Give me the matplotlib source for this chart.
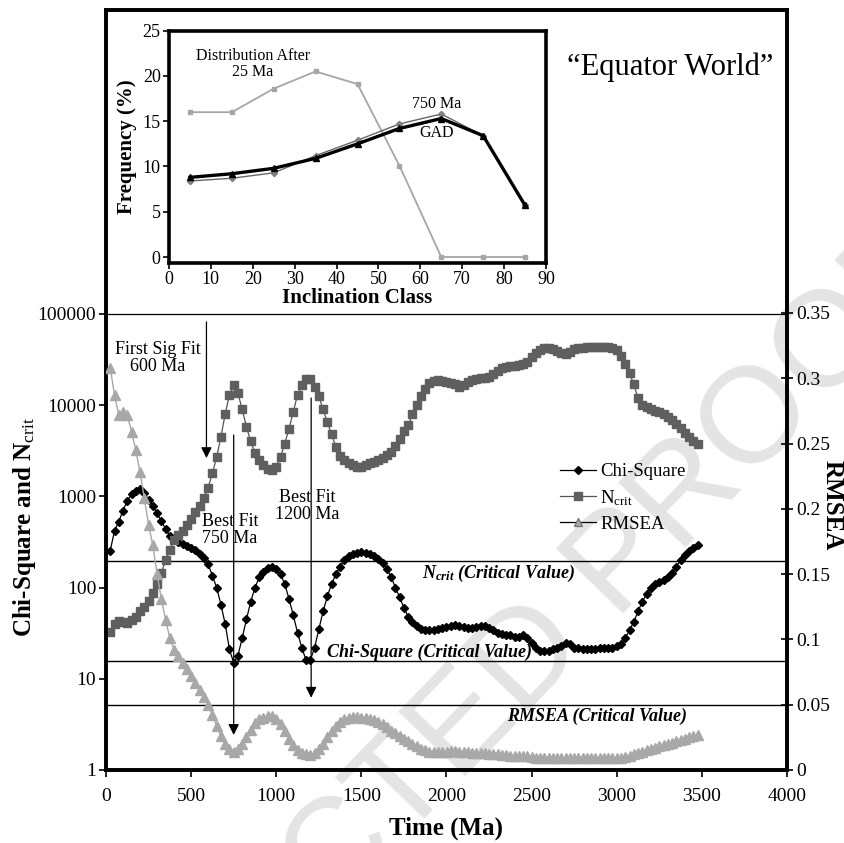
import matplotlib
matplotlib.use('Agg')
import matplotlib.pyplot as plt
from matplotlib.lines import Line2D

plt.rcParams['font.family'] = ['Liberation Serif', 'DejaVu Serif']
plt.rcParams['mathtext.fontset'] = 'custom'
plt.rcParams['mathtext.rm'] = 'Liberation Serif'
plt.rcParams['mathtext.it'] = 'Liberation Serif:italic:bold'
plt.rcParams['mathtext.bf'] = 'Liberation Serif:bold'

# ---------------- main chart data ----------------
time_ma = list(range(25, 3500, 25))

chi_square = [
    255, 420, 530, 700, 900, 1050, 1150, 1200, 1100, 920,
    780, 660, 540, 440, 370, 340, 320, 300, 285, 275,
    258, 235, 210, 180, 135, 100, 65, 40, 21, 15,
    18, 28, 45, 70, 100, 130, 150, 163, 168, 160,
    140, 110, 75, 50, 32, 22, 16, 16, 22, 35,
    55, 80, 110, 140, 170, 200, 220, 235, 242, 245,
    240, 232, 222, 205, 185, 160, 130, 100, 78, 60,
    48, 42, 38, 35, 34, 34, 34, 35, 36, 37,
    38, 39, 38, 37, 36, 36, 37, 38, 38, 36,
    34, 32, 31, 30, 30, 29, 29, 30, 28, 25,
    22, 20, 20, 20, 21, 22, 23, 25, 24, 22,
    22, 21, 21, 21, 21, 22, 22, 22, 22, 23,
    24, 28, 34, 42, 55, 70, 85, 100, 110, 115,
    120, 130, 145, 170, 200, 225, 250, 270, 290,
]

n_crit = [
    33, 40, 43, 42, 41, 44, 48, 55, 62, 72,
    88, 110, 145, 200, 260, 330, 380, 420, 480, 560,
    680, 780, 950, 1250, 1800, 2700, 4500, 8000, 13000, 16500,
    13500, 9000, 5800, 4000, 3000, 2500, 2200, 2000, 1950, 2100,
    2700, 3800, 5500, 8500, 13000, 16500, 19500, 19500, 16000, 12500,
    9000, 6500, 4800, 3500, 2800, 2500, 2300, 2200, 2100, 2100,
    2200, 2300, 2400, 2500, 2650, 2850, 3100, 3600, 4300, 5200,
    6000, 8000, 10000, 12500, 15000, 17500, 18500, 19000, 18500, 18000,
    17500, 17000, 16000, 16500, 18000, 19000, 19500, 20000, 20000, 20500,
    22000, 24000, 25500, 26500, 27000, 27000, 27500, 28000, 30000, 34000,
    37000, 40000, 42000, 42500, 41000, 39000, 37000, 36500, 38000, 41000,
    42000, 42500, 43000, 43000, 43000, 43000, 43000, 43000, 42500, 40000,
    35000, 28000, 22500, 17000, 12000, 10000, 9500, 9000, 8700, 8400,
    8000, 7400, 6800, 6200, 5600, 5000, 4500, 4100, 3800,
]

rmsea = [
    0.308, 0.287, 0.272, 0.274, 0.272, 0.259, 0.245, 0.228, 0.208, 0.188,
    0.172, 0.150, 0.131, 0.115, 0.101, 0.092, 0.087, 0.082, 0.077, 0.072,
    0.067, 0.061, 0.056, 0.050, 0.042, 0.034, 0.026, 0.020, 0.016, 0.014,
    0.016, 0.020, 0.025, 0.031, 0.036, 0.039, 0.040, 0.041, 0.041, 0.039,
    0.035, 0.030, 0.024, 0.019, 0.015, 0.013, 0.012, 0.0115, 0.013, 0.016,
    0.020, 0.025, 0.030, 0.034, 0.037, 0.039, 0.040, 0.0405, 0.0405, 0.040,
    0.0395, 0.039, 0.038, 0.037, 0.035, 0.033, 0.030, 0.028, 0.026, 0.024,
    0.022, 0.020, 0.018, 0.016, 0.015, 0.014, 0.014, 0.014, 0.014, 0.014,
    0.0145, 0.0145, 0.014, 0.014, 0.0135, 0.013, 0.013, 0.013, 0.013, 0.0125,
    0.012, 0.012, 0.0115, 0.0115, 0.011, 0.011, 0.011, 0.011, 0.0105, 0.010,
    0.0095, 0.009, 0.009, 0.009, 0.009, 0.009, 0.0095, 0.0095, 0.0095, 0.009,
    0.009, 0.009, 0.009, 0.009, 0.009, 0.009, 0.009, 0.009, 0.009, 0.009,
    0.0095, 0.010, 0.011, 0.012, 0.013, 0.014, 0.015, 0.016, 0.017, 0.018,
    0.019, 0.020, 0.021, 0.022, 0.023, 0.024, 0.025, 0.026, 0.027,
]

left_ticks = [1, 10, 100, 1000, 10000, 100000]
left_tick_labels = ['1', '10', '100', '1000', '10000', '100000']
right_ticks = [0, 0.05, 0.1, 0.15, 0.2, 0.25, 0.3, 0.35]
right_tick_labels = ['0', '0.05', '0.1', '0.15', '0.2', '0.25', '0.3', '0.35']
x_ticks = [0, 500, 1000, 1500, 2000, 2500, 3000, 3500, 4000]

ncrit_critical = 195
chi_critical = 15.5
rmsea_critical = 0.05

# ---------------- inset data ----------------
incl_class = [5, 15, 25, 35, 45, 55, 65, 75, 85]
freq_after_25 = [16.0, 16.0, 18.6, 20.5, 19.1, 10.1, 0.0, 0.0, 0.0]
freq_750 = [8.4, 8.7, 9.3, 11.2, 12.9, 14.7, 15.8, 13.4, 5.8]
freq_gad = [8.8, 9.2, 9.8, 10.9, 12.5, 14.2, 15.3, 13.4, 5.7]

W, H = 845, 843
fig = plt.figure(figsize=(W / 100, H / 100), dpi=100)


def fx(x):
    return x / W


def fy(y):
    return 1 - y / H


# faint watermark behind everything (as in the reference proof)
fig.text(fx(378), fy(817), 'UNCORRECTED PROOF', fontsize=98, rotation=46,
         color='#e4e4e4', ha='center', va='center', family='Liberation Sans',
         zorder=-5)

# main axes frame: x 106..787 px, y 10..770 px
ax = fig.add_axes([fx(106), fy(770), fx(787) - fx(106), fy(10) - fy(770)])
ax.set_facecolor('none')
ax.set_yscale('log')
top_log = (770 - 10) / 91.2
ax.set_ylim(1, 10 ** top_log)
ax.set_xlim(0, 4000)
ax.set_xticks(x_ticks)
ax.set_xticklabels([str(v) for v in x_ticks], fontsize=14)
ax.set_yticks(left_ticks)
ax.set_yticklabels(left_tick_labels, fontsize=14)
ax.minorticks_off()
ax.tick_params(axis='y', which='both', direction='out', length=5, width=1.2, pad=2)
ax.tick_params(axis='x', direction='out', length=5, width=1.2, pad=8)
for sp in ax.spines.values():
    sp.set_linewidth(2.6)

ax2 = ax.twinx()
ax2.set_facecolor('none')
ax2.set_ylim(0, 0.35 * (770 - 10) / 457)
ax2.set_yticks(right_ticks)
ax2.set_yticklabels(right_tick_labels, fontsize=14)
ax2.tick_params(axis='y', direction='inout', length=9, width=1.2, pad=2)
for sp in ax2.spines.values():
    sp.set_linewidth(2.6)

# horizontal reference lines
ax.axhline(100000, color='black', lw=0.9, zorder=1)
ax.axhline(ncrit_critical, color='black', lw=1.0, zorder=1)
ax.axhline(chi_critical, color='black', lw=1.0, zorder=1)
ax2.axhline(rmsea_critical, color='black', lw=1.0, zorder=1)

# series
ax.plot(time_ma, chi_square, color='black', lw=0.9, marker='D', ms=4.3,
        mfc='black', mec='black', zorder=3)
ax.plot(time_ma, n_crit, color='#555555', lw=0.9, marker='s', ms=5.6,
        mfc='#5f5f5f', mec='#5f5f5f', zorder=4)
ax2.plot(time_ma, rmsea, color='#a8a8a8', lw=1.0, marker='^', ms=7,
         mfc='#a8a8a8', mec='#a8a8a8', zorder=3)

# arrows
arrow_kw = dict(arrowstyle='-|>', color='black', lw=0.9, mutation_scale=16,
                shrinkA=0, shrinkB=0)
ax.annotate('', xy=(590, 2630), xytext=(590, 82000), arrowprops=arrow_kw)
ax.annotate('', xy=(750, 2.42), xytext=(750, 4700), arrowprops=arrow_kw)
ax.annotate('', xy=(1205, 6.2), xytext=(1205, 12000), arrowprops=arrow_kw)

# annotation texts
fig.text(fx(158), fy(358), 'First Sig Fit\n600 Ma', fontsize=13, ha='center',
         va='center', linespacing=1.05)
fig.text(fx(230), fy(530), 'Best Fit\n750 Ma', fontsize=13, ha='center',
         va='center', linespacing=1.05)
fig.text(fx(307), fy(506), 'Best Fit\n1200 Ma', fontsize=13, ha='center',
         va='center', linespacing=1.05)

fig.text(fx(575), fy(573), r'$N_{crit}$ (Critical Value)', fontsize=13,
         fontweight='bold', fontstyle='italic', ha='right', va='center')
fig.text(fx(327), fy(652), 'Chi-Square (Critical Value)', fontsize=13,
         fontweight='bold', fontstyle='italic', ha='left', va='center')
fig.text(fx(507), fy(716), 'RMSEA (Critical Value)', fontsize=13,
         fontweight='bold', fontstyle='italic', ha='left', va='center')

# axis labels
fig.text(fx(25), fy(527), r'Chi-Square and N$_{\rm crit}$', fontsize=18,
         fontweight='bold', rotation=90, ha='center', va='center')
fig.text(fx(832), fy(505), 'RMSEA', fontsize=18, fontweight='bold',
         rotation=270, ha='center', va='center')
fig.text(fx(446), fy(828), 'Time (Ma)', fontsize=18, fontweight='bold',
         ha='center', va='center')

# legend
handles = [
    Line2D([], [], color='black', lw=0.9, marker='D', ms=4.3, mfc='black', mec='black'),
    Line2D([], [], color='#555555', lw=0.9, marker='s', ms=5.6, mfc='#5f5f5f', mec='#5f5f5f'),
    Line2D([], [], color='black', lw=0.9, marker='^', ms=6, mfc='#a8a8a8', mec='#777777'),
]
labels = ['Chi-Square', r'N$_{\rm crit}$', 'RMSEA']
leg = ax.legend(handles, labels, loc='upper left',
                bbox_to_anchor=(fx(560), fy(463)), bbox_transform=fig.transFigure,
                frameon=False, fontsize=13.5, handlelength=1.9, handletextpad=0.25,
                labelspacing=0.42, borderpad=0, borderaxespad=0)

# title text
fig.text(fx(670), fy(67), '\u201cEquator World\u201d', fontsize=22,
         ha='center', va='center')

# ---------------- inset ----------------
ins = fig.add_axes([fx(169), fy(263), fx(546) - fx(169), fy(30.7) - fy(263)])
ins.set_xlim(0, 90)
ins.set_ylim(-0.66, 25)
ins.set_xticks(range(0, 91, 10))
ins.set_yticks(range(0, 26, 5))
ins.tick_params(labelsize=13, direction='out', length=4, width=1.2, pad=2)
for sp in ins.spines.values():
    sp.set_linewidth(2.6)
ins.plot(incl_class, freq_after_25, color='#a6a6a6', lw=1.3, marker='s', ms=3.5,
         mfc='#a6a6a6', mec='#a6a6a6')
ins.plot(incl_class, freq_750, color='#666666', lw=1.0, marker='D', ms=3.2,
         mfc='#808080', mec='#808080')
ins.plot(incl_class, freq_gad, color='black', lw=2.4, marker='^', ms=5,
         mfc='black', mec='black')
ins.set_xlabel('Inclination Class', fontsize=15, fontweight='bold', labelpad=0)
ins.set_ylabel('Frequency (%)', fontsize=15, fontweight='bold', labelpad=4)

fig.text(fx(253), fy(64), 'Distribution After\n25 Ma', fontsize=11.5,
         ha='center', va='center', linespacing=1.05)
fig.text(fx(437), fy(104), '750 Ma', fontsize=11.5, ha='center', va='center')
fig.text(fx(437), fy(133), 'GAD', fontsize=11.5, ha='center', va='center')

fig.savefig('out.png', dpi=100)
